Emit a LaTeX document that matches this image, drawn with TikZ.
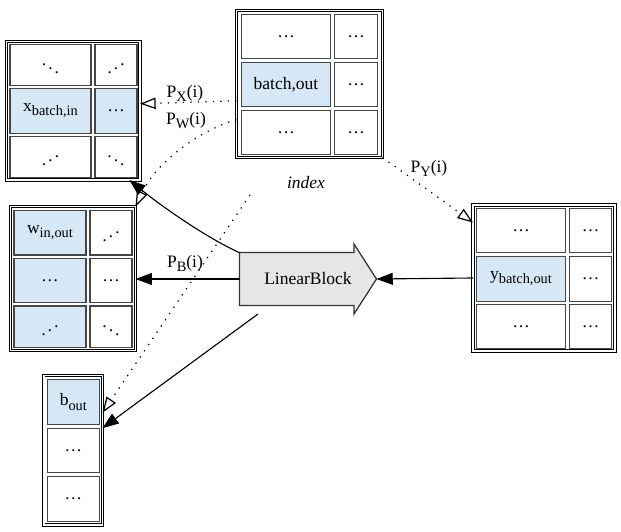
\documentclass[tikz,border=0pt]{standalone}
\usepackage{fontspec}
\setmainfont{Liberation Serif}
\usepackage{graphicx}
\usetikzlibrary{arrows.meta}

\definecolor{cellblue}{RGB}{214,232,246}
\definecolor{blockgray}{RGB}{229,231,231}
\definecolor{cellline}{RGB}{70,70,70}

\newcommand{\lowtext}[1]{\raisebox{-0.5ex}{\fontsize{11.5}{11.5}\selectfont #1}}
\newcommand{\dotsdown}{$\ddots$}
\newcommand{\dotsup}{\reflectbox{$\ddots$}}

\tikzset{
  cell/.style 2 args={draw=cellline, line width=1pt, minimum width=#1*0.8pt,
    minimum height=#2*0.8pt, inner sep=0pt, outer sep=0pt},
  hot/.style={fill=cellblue},
  tabframe/.style 2 args={draw, double, line width=0.7pt, double distance=1.2pt,
    minimum width=#1*0.8pt, minimum height=#2*0.8pt, inner sep=0pt, outer sep=0pt},
  blockshape/.style={draw=black!80, fill=blockgray, line width=1pt},
  pointer/.style={line width=1pt, dash pattern=on 1pt off 5pt,
    -{Triangle[open, length=12.5pt, width=9pt]}},
  flow/.style={line width=0.9pt, -{Triangle[length=13pt, width=9.5pt]}},
}

\begin{document}
\begin{tikzpicture}[x=0.8pt, y=-0.8pt, font=\fontsize{14}{16}\selectfont]
  \useasboundingbox (0,0) rectangle (621,532);

  % input table x
  \node[tabframe={133.5}{138.5}] (xtab) at (73.25,110.75) {};
  \node[cell={81}{41}] (x11) at (50.5,65) {\dotsdown};
  \node[cell={42}{41}] (x12) at (116,65) {\dotsup};
  \node[cell={81}{44.5}, hot] (x21) at (50.5,111) {x\lowtext{batch,in}};
  \node[cell={42}{44.5}, hot] (x22) at (116,111) {…};
  \node[cell={81}{41}] (x31) at (50.5,157) {\dotsup};
  \node[cell={42}{41}] (x32) at (116,157) {\dotsdown};

  % index table
  \node[tabframe={146}{147}] (itab) at (309.5,84) {};
  \node[cell={89}{44}] (i11) at (286,36.5) {…};
  \node[cell={43}{44}] (i12) at (356,36.5) {…};
  \node[cell={89}{44}, hot] (i21) at (286,84.5) {batch,out};
  \node[cell={43}{44}] (i22) at (356,84.5) {…};
  \node[cell={89}{44}] (i31) at (286,132.5) {…};
  \node[cell={43}{44}] (i32) at (356,132.5) {…};
  \node (ilabel) at (306,183) {\textit{index}};

  % weight table w
  \node[tabframe={125}{144}] (wtab) at (73,278.5) {};
  \node[cell={72}{44.5}, hot] (w11) at (50,232.75) {w\lowtext{in,out}};
  \node[cell={42}{44.5}] (w12) at (111,232.75) {\dotsup};
  \node[cell={72}{44}, hot] (w21) at (50,280.5) {…};
  \node[cell={42}{44}] (w22) at (111,280.5) {…};
  \node[cell={72}{41.5}, hot] (w31) at (50,326.75) {\dotsup};
  \node[cell={42}{41.5}] (w32) at (111,326.75) {\dotsdown};

  % output table y
  \node[tabframe={142}{146}] (ytab) at (544,278) {};
  \node[cell={89}{44}] (y11) at (521,230.8) {…};
  \node[cell={42.6}{44}] (y12) at (590.5,230.8) {…};
  \node[cell={89}{44.7}, hot] (y21) at (521,278.85) {y\lowtext{batch,out}};
  \node[cell={42.6}{44.7}] (y22) at (590.5,278.85) {…};
  \node[cell={89}{44}] (y31) at (521,326.5) {…};
  \node[cell={42.6}{44}] (y32) at (590.5,326.5) {…};

  % bias table b
  \node[tabframe={58.7}{149.5}] (btab) at (73.15,450.25) {};
  \node[cell={52.3}{45}, hot] (b1) at (73.35,402) {b\lowtext{out}};
  \node[cell={52.3}{44.6}] (b2) at (73.35,450.5) {…};
  \node[cell={52.3}{45.3}] (b3) at (73.35,499.15) {…};

  % the block
  \draw[blockshape] (239.5,252.5) -- (354,252.5) -- (354,244) -- (376.5,279)
    -- (354,314) -- (354,305.5) -- (239.5,305.5) -- cycle;
  \node[minimum width=137*0.8pt, minimum height=70*0.8pt, inner sep=0pt, outer sep=0pt]
    (lb) at (308,279) {LinearBlock};

  % index pointers
  \coordinate (bsrc) at (250,195);
  \draw[pointer] (itab.193) -- (xtab.6);
  \draw[pointer] (itab.206) .. controls (195,132) and (155,165) .. (wtab.north east);
  \draw[pointer] (itab.south east) -- (ytab.142);
  \draw[pointer] (bsrc) -- (btab.52);
  \node (lpx) at (185,93) {P\lowtext{X}(i)};
  \node (lpw) at (186,121) {P\lowtext{W}(i)};
  \node (lpy) at (429,168) {P\lowtext{Y}(i)};
  \node (lpb) at (185,263) {P\lowtext{B}(i)};

  % data flow
  \draw[flow] (lb.159) .. controls (205,237) and (160,205) .. (xtab.309);
  \draw[flow] (lb.west) -- (lb.west -| wtab.east);
  \draw[flow] (ytab.west) -- (lb.east);
  \draw[flow] (lb.215) -- (btab.37);
\end{tikzpicture}
\end{document}
